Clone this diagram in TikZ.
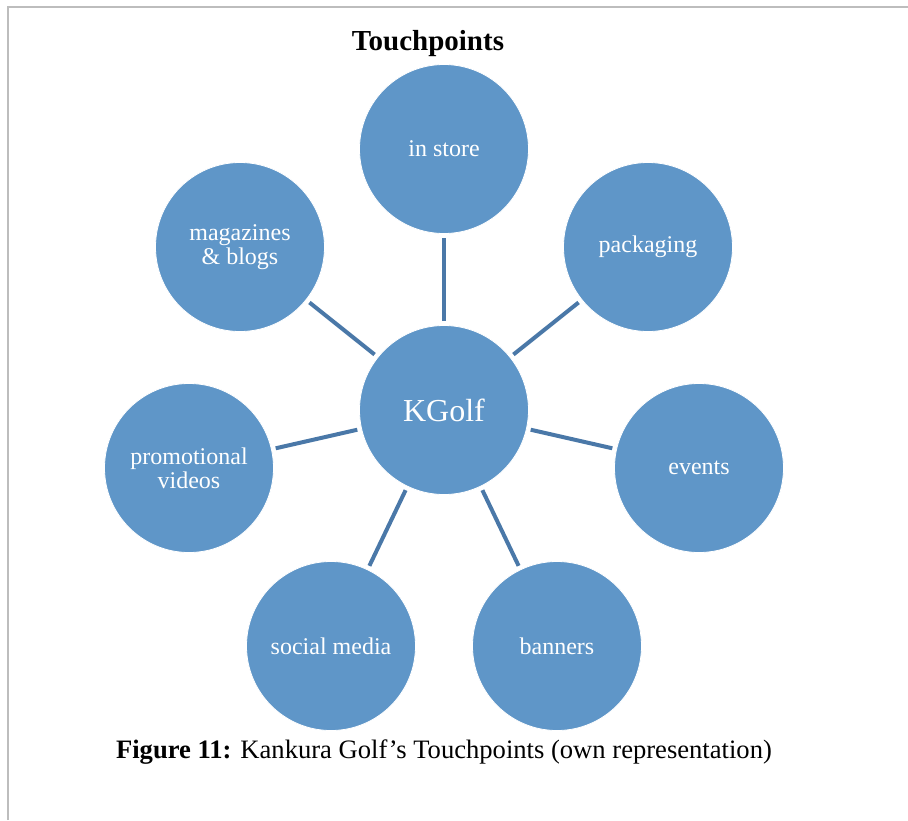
\documentclass[tikz,border=0pt]{standalone}
\usepackage{fontspec}
\setmainfont{Liberation Serif}
\definecolor{disc}{HTML}{5F96C8}
\definecolor{spoke}{HTML}{4A78A8}
\definecolor{frame}{HTML}{BDBDBD}
\begin{document}
\begin{tikzpicture}[x=1pt, y=-1pt,
  touch/.style={circle, draw=white, line width=0.8pt, fill=disc, minimum size=169pt,
    inner sep=0pt, text=white, align=center, font=\fontsize{24}{24}\selectfont},
  link/.style={spoke, line width=4pt, shorten <=4pt, shorten >=4pt}]
  \useasboundingbox (0,0) rectangle (908,820);

  % page frame
  \draw[frame, line width=2pt] (8,820) -- (8,7) -- (908,7);

  % title
  \node[anchor=base, font=\fontsize{29}{29}\selectfont\bfseries] (title) at (428,50) {Touchpoints};

  % centre
  \node[touch, font=\fontsize{32}{32}\selectfont] (kgolf) at (444,410) {KGolf};

  % touchpoints
  \node[touch] (instore)   at (444,149) {in store};
  \node[touch] (packaging) at (648,247) {packaging};
  \node[touch] (events)    at (699,468) {events};
  \node[touch] (banners)   at (557,646) {banners};
  \node[touch] (social)    at (331,646) {social media};
  \node[touch] (promo)     at (189,468) {promotional\\videos};
  \node[touch] (magazines) at (240,247) {magazines\\\& blogs};

  % spokes
  \foreach \t in {instore, packaging, events, banners, social, promo, magazines}
    \draw[link] (kgolf) -- (\t);

  % caption
  \node[anchor=base, font=\fontsize{26.6}{26.6}\selectfont] (caption) at (444,758)
    {\textbf{Figure 11:} Kankura Golf’s Touchpoints (own representation)};
\end{tikzpicture}
\end{document}
